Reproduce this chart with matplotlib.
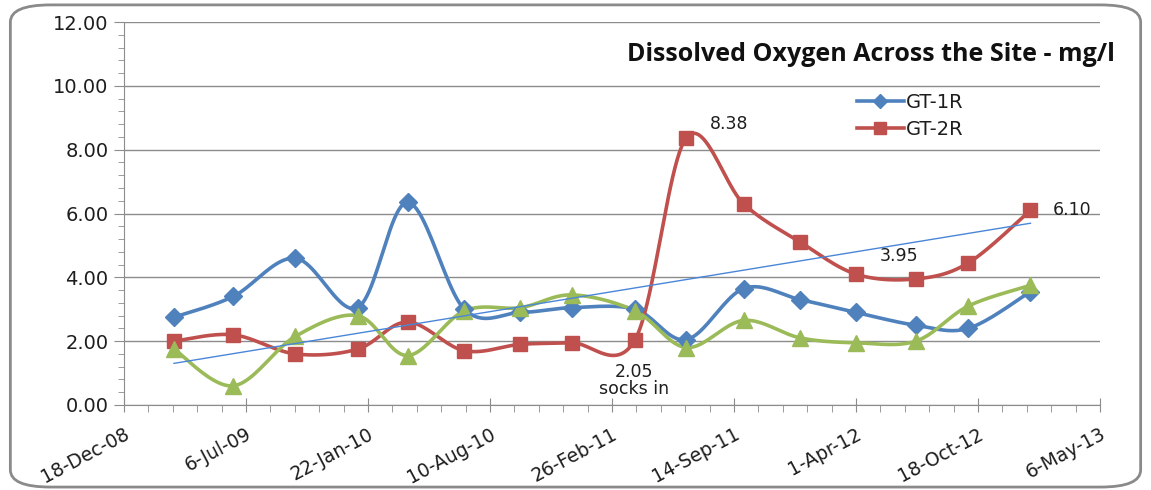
import datetime as dt
import numpy as np
import matplotlib
matplotlib.use("Agg")
import matplotlib.pyplot as plt
import matplotlib.dates as mdates
from matplotlib.lines import Line2D
from matplotlib.patches import FancyBboxPatch

plt.rcParams['font.family'] = ['DejaVu Sans']

# sampling dates (roughly quarterly)
dates = ["2009-03-10", "2009-06-15", "2009-09-25", "2010-01-05", "2010-03-28",
         "2010-06-29", "2010-09-29", "2010-12-22", "2011-04-05", "2011-06-28",
         "2011-09-30", "2012-01-01", "2012-04-01", "2012-07-08", "2012-10-02",
         "2013-01-12"]
gt1r = [2.75, 3.40, 4.60, 3.05, 6.35, 3.00, 2.90, 3.05, 3.00, 2.05,
        3.65, 3.30, 2.90, 2.50, 2.40, 3.55]
gt2r = [2.00, 2.20, 1.60, 1.75, 2.60, 1.70, 1.90, 1.95, 2.05, 8.38,
        6.30, 5.10, 4.10, 3.95, 4.45, 6.10]
gt3r = [1.75, 0.60, 2.15, 2.80, 1.55, 2.95, 3.05, 3.45, 2.95, 1.80,
        2.65, 2.10, 1.95, 2.00, 3.10, 3.75]

axis_start = dt.date(2008, 12, 18)
axis_end = dt.date(2013, 5, 6)
title = "Dissolved Oxygen Across the Site - mg/l"

BLUE = "#4F81BD"
RED = "#C0504D"
GREEN = "#9BBB59"
GRID = "#8C8C8C"
TXT = "#1E1E1E"


def smooth(x, y, n=24):
    """Excel-like smoothed line (Catmull-Rom as cubic Bezier)."""
    x = np.asarray(x, float)
    y = np.asarray(y, float)
    px = np.concatenate([[x[0]], x, [x[-1]]])
    py = np.concatenate([[y[0]], y, [y[-1]]])
    t = np.linspace(0, 1, n)[:, None]
    xs, ys = [], []
    for i in range(1, len(px) - 2):
        p0 = np.array([px[i], py[i]])
        p3 = np.array([px[i + 1], py[i + 1]])
        c1 = p0 + (np.array([px[i + 1], py[i + 1]]) - np.array([px[i - 1], py[i - 1]])) / 6
        c2 = p3 - (np.array([px[i + 2], py[i + 2]]) - np.array([px[i], py[i]])) / 6
        b = ((1 - t) ** 3) * p0 + 3 * ((1 - t) ** 2) * t * c1 + 3 * (1 - t) * t ** 2 * c2 + t ** 3 * p3
        xs.append(b[:, 0])
        ys.append(b[:, 1])
    return np.concatenate(xs), np.concatenate(ys)


x = mdates.date2num([dt.datetime.strptime(d, "%Y-%m-%d") for d in dates])

fig = plt.figure(figsize=(11.51, 4.90), dpi=100)
ax = fig.add_axes([0.1077, 0.1735, 0.848, 0.7815])

series = [(gt1r, BLUE, "D", 9.5), (gt2r, RED, "s", 10.5), (gt3r, GREEN, "^", 11)]
for vals, col, mk, ms in series:
    sx, sy = smooth(x, vals)
    ax.plot(sx, sy, color=col, lw=2.6, zorder=3, solid_capstyle="round")
    ax.plot(x, vals, ls="none", marker=mk, ms=ms, color=col, zorder=4)

# linear trendline of GT-2R
k, c = np.polyfit(x, gt2r, 1)
ax.plot([x[0], x[-1]], [k * x[0] + c, k * x[-1] + c], color="#4A86D8", lw=1.0, zorder=5)

# data labels
lab = dict(textcoords="offset points", fontsize=12.5, color=TXT)
ax.annotate("8.38", (x[9], gt2r[9]), xytext=(17, 3), va="bottom", ha="left", **lab)
ax.annotate("6.10", (x[15], gt2r[15]), xytext=(16, 0), va="center", ha="left", **lab)
ax.annotate("3.95", (x[13], gt2r[13]), xytext=(-12, 10), va="bottom", ha="center", **lab)
ax.annotate("2.05\nsocks in", (x[8], gt2r[8]), xytext=(-1, -17), va="top", ha="center",
            linespacing=0.95, **lab)

# axes
ax.set_ylim(0, 12)
ax.set_yticks(np.arange(0, 12.01, 2))
ax.set_yticks(np.arange(0, 12.01, 0.4), minor=True)
ax.yaxis.set_major_formatter(matplotlib.ticker.FormatStrFormatter("%.2f"))

x0 = mdates.date2num(axis_start)
x1 = mdates.date2num(axis_end)
ax.set_xlim(x0, x1)
major = np.arange(x0, x1 + 1, 200)
ax.set_xticks(major)
ax.set_xticks(np.arange(x0, x1 + 1, 40), minor=True)
labels = []
for m in major:
    d = mdates.num2date(m)
    labels.append(f"{d.day}-{d.strftime('%b-%y')}")
ax.set_xticklabels(labels, rotation=28, ha="right", rotation_mode="anchor")

ax.grid(axis="y", which="major", color=GRID, lw=1.0)
ax.set_axisbelow(True)
for s in ["top", "right"]:
    ax.spines[s].set_visible(False)
for s in ["left", "bottom"]:
    ax.spines[s].set_color(GRID)
ax.tick_params(axis="y", which="major", direction="out", length=7, color=GRID,
               labelsize=14, pad=4, labelcolor=TXT)
ax.tick_params(axis="y", which="minor", direction="out", length=4, color=GRID)
ax.tick_params(axis="x", which="major", direction="inout", length=10, color=GRID,
               labelsize=13.5, pad=9, labelcolor=TXT)
ax.tick_params(axis="x", which="minor", direction="out", length=5, color=GRID)

ax.text(1.015, 0.915, title, transform=ax.transAxes, ha="right", va="center",
        fontsize=18, fontweight="bold", color="#111111", family="Open Sans")

handles = [Line2D([], [], color=BLUE, lw=2.6, marker="D", ms=7),
           Line2D([], [], color=RED, lw=2.6, marker="s", ms=9)]
ax.legend(handles, ["GT-1R", "GT-2R"], loc="upper left", bbox_to_anchor=(0.743, 0.835),
          frameon=False, fontsize=14, handlelength=2.4, handletextpad=0.1,
          labelspacing=0.4, borderaxespad=0, labelcolor=TXT)

# outer chart border
fig.patches.append(FancyBboxPatch((0.009, 0.006), 0.982, 0.984,
                                  boxstyle="round,pad=0,rounding_size=0.035",
                                  transform=fig.transFigure, fill=False,
                                  edgecolor="#8A8A8A", lw=2))

fig.savefig("out.png", dpi=100)
